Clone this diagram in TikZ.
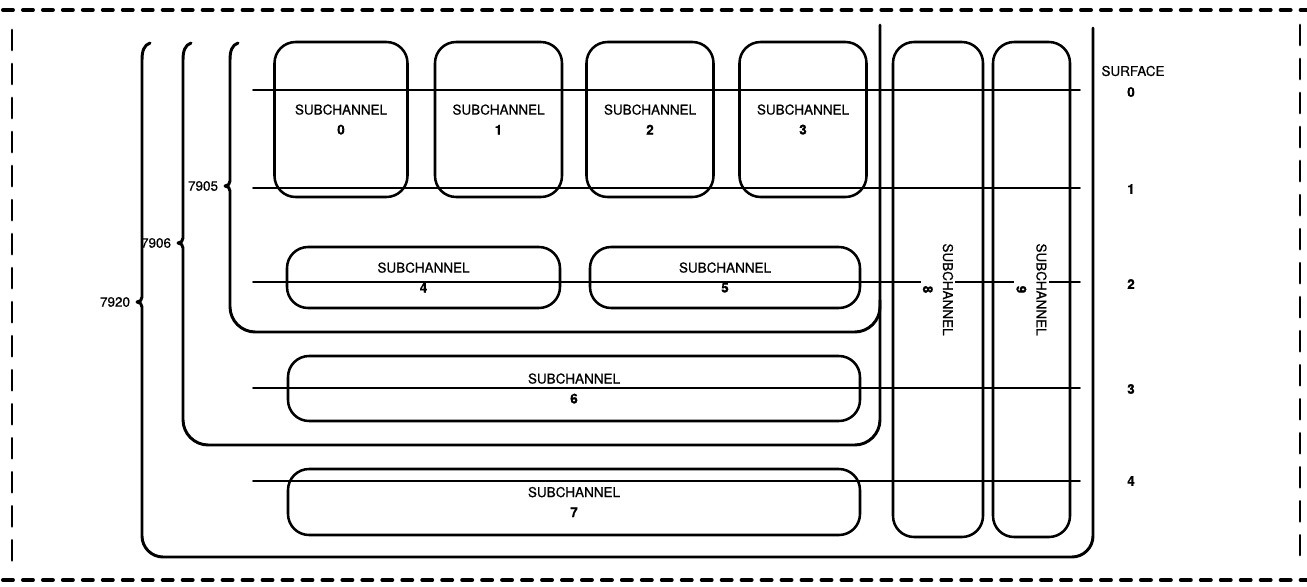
\documentclass[tikz,border=0pt]{standalone}
\usepackage{fontspec}
\setmainfont{TeX Gyre Heros}[FakeBold=0.6]
\usepackage{tikz}
\def\px{0.25mm}
\tikzstyle{every node}=[font=\fontsize{9.6pt}{14.2pt}\selectfont]
\tikzstyle{scbox}=[draw, line width=1.8pt, rounded corners=15pt, align=center, inner sep=0pt]
\tikzstyle{scvlbl}=[rotate=-90, fill=white, align=center, inner sep=1.5pt]
\tikzstyle{brace}=[line width=2.1pt]
\tikzstyle{surf}=[line width=1.1pt]
\tikzstyle{frameh}=[line width=2.8pt, dash pattern=on 7.1pt off 7.1pt]
\tikzstyle{framev}=[line width=2.1pt, dash pattern=on 14.2pt off 10pt]
\tikzset{wh/.style 2 args={minimum width={#1*\px}, minimum height={#2*\px}}}

\begin{document}
\begin{tikzpicture}[line cap=round,line join=round,x=\px,y=-\px]
\useasboundingbox (0,0) rectangle (1307,586);
\draw[frameh] (3,10) -- (1307,10);
\draw[frameh] (3,580) -- (1307,580);
\draw[framev] (12,30) -- (12,563);
\draw[framev] (1300,25) -- (1300,555);

\draw[surf] (253,90) -- (1080,90);
\draw[surf] (253,188) -- (1080,188);
\draw[surf] (253,282) -- (1080,282);
\draw[surf] (253,388) -- (1080,388);
\draw[surf] (253,481) -- (1080,481);

\node[scbox, wh={133}{155}] (sc0) at (341,119.5) {SUBCHANNEL\\\textbf{0}};
\node[scbox, wh={127}{155}] (sc1) at (498.5,119.5) {SUBCHANNEL\\\textbf{1}};
\node[scbox, wh={127}{155}] (sc2) at (650,119.5) {SUBCHANNEL\\\textbf{2}};
\node[scbox, wh={127}{155}] (sc3) at (803,119.5) {SUBCHANNEL\\\textbf{3}};
\node[scbox, wh={273}{61}] (sc4) at (423.5,277.5) {SUBCHANNEL\\\textbf{4}};
\node[scbox, wh={270}{61}] (sc5) at (725,277.5) {SUBCHANNEL\\\textbf{5}};
\node[scbox, wh={572}{65}] (sc6) at (574,388.5) {SUBCHANNEL\\\textbf{6}};
\node[scbox, wh={572}{66}] (sc7) at (574,502) {SUBCHANNEL\\\textbf{7}};
\node[scbox, wh={90}{495}] (sc8) at (938,289.5) {};
\node[scbox, wh={77}{495}] (sc9) at (1031.5,289.5) {};
\node[scvlbl] (sc8txt) at (sc8) {SUBCHANNEL\\\textbf{8}};
\node[scvlbl] (sc9txt) at (sc9) {SUBCHANNEL\\\textbf{9}};

\draw[brace] (238,43) .. controls (232,45) and (230,51) .. (230,60) -- (230,181) .. controls (230,184) and (228,186) .. (225,186) .. controls (228,186) and (230,188) .. (230,191) [rounded corners=18pt] -- (230,332) -- (880,332) -- (880,300);
\draw[brace] (191,43) .. controls (185,45) and (183,51) .. (183,60) -- (183,238) .. controls (183,241) and (181,243) .. (178,243) .. controls (181,243) and (183,245) .. (183,248) [rounded corners=18pt] -- (183,445) -- (880,445) -- (880,25);
\draw[brace] (150,43) .. controls (144,45) and (142,51) .. (142,60) -- (142,297) .. controls (142,300) and (140,302) .. (137,302) .. controls (140,302) and (142,304) .. (142,307) [rounded corners=15pt] -- (142,557) -- (1093,557) -- (1093,28);

\node[anchor=east] (b7905) at (223,186) {7905};
\node[anchor=east] (b7906) at (176,243) {7906};
\node[anchor=east] (b7920) at (135,302) {7920};

\node (surface) at (1133,71) {SURFACE};
\node (s0) at (1131,92) {\textbf{0}};
\node (s1) at (1131,189) {\textbf{1}};
\node (s2) at (1131,284) {\textbf{2}};
\node (s3) at (1131,389) {\textbf{3}};
\node (s4) at (1131,481) {\textbf{4}};
\end{tikzpicture}
\end{document}
